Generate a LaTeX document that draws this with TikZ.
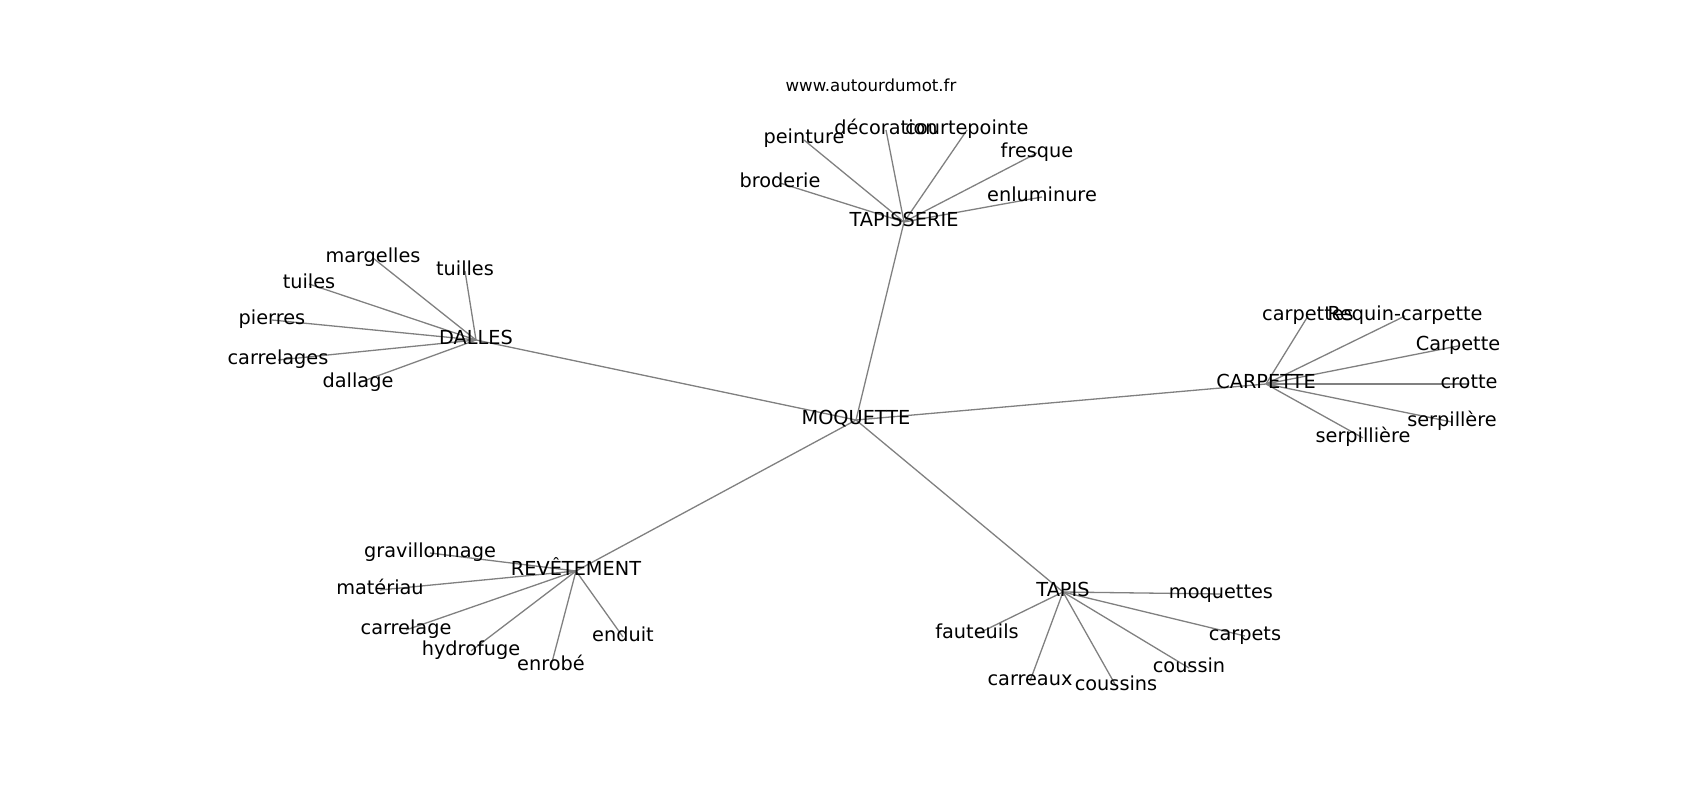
\documentclass[tikz,border=0pt]{standalone}
\usepackage{fontspec}
\setmainfont{DejaVu Sans}
\usetikzlibrary{backgrounds}
\begin{document}
\begin{tikzpicture}[
		x=1pt, y=-1pt,
		every node/.style={
				font=\fontsize{19.3}{22}\selectfont,
				inner sep=0pt, text height=0.8em, text depth=0pt,
			},
		edge/.style={gray, line width=1.3pt},
	]
	\useasboundingbox (0,-5) rectangle (1700,795);
	\node (site) [font=\fontsize{16.6}{19}\selectfont] at (871,83) {www.autourdumot.fr};
	% centre et mots voisins
	\node (moquette) at (856,415) {MOQUETTE};
	\node (tapisserie) at (904,217) {TAPISSERIE};
	\node (dalles) at (476,335) {DALLES};
	\node (carpette) at (1266,379) {CARPETTE};
	\node (revetement) at (576,566) {REVÊTEMENT};
	\node (tapis) at (1063,587) {TAPIS};
	\foreach \n in {tapisserie,dalles,carpette,revetement,tapis} {
			\begin{scope}[on background layer]
				\draw [edge] (moquette.center) -- (\n.center);
			\end{scope}
		}
	% feuilles
	\foreach \h/\n/\t/\x/\y in {
			tapisserie/broderie/broderie/780/178,
			tapisserie/peinture/peinture/804/135,
			tapisserie/decoration/décoration/886/125,
			tapisserie/courtepointe/courtepointe/967/125,
			tapisserie/fresque/fresque/1037/148,
			tapisserie/enluminure/enluminure/1042/192,
			dalles/margelles/margelles/373/253,
			dalles/tuilles/tuilles/465/266,
			dalles/tuiles/tuiles/309/279,
			dalles/pierres/pierres/272/315,
			dalles/carrelages/carrelages/278/355,
			dalles/dallage/dallage/358/378,
			carpette/carpettes/carpettes/1308/311,
			carpette/requin/Requin-carpette/1405/311,
			carpette/carpettebis/Carpette/1458/341,
			carpette/crotte/crotte/1469/379,
			carpette/serpillere/serpillère/1452/417,
			carpette/serpilliere/serpillière/1363/433,
			revetement/gravillonnage/gravillonnage/430/548,
			revetement/materiau/matériau/380/585,
			revetement/carrelage/carrelage/406/625,
			revetement/hydrofuge/hydrofuge/471/646,
			revetement/enrobe/enrobé/551/661,
			revetement/enduit/enduit/623/632,
			tapis/moquettes/moquettes/1221/589,
			tapis/fauteuils/fauteuils/977/629,
			tapis/carpets/carpets/1245/631,
			tapis/coussin/coussin/1189/663,
			tapis/carreaux/carreaux/1030/676,
			tapis/coussins/coussins/1116/681} {
			\node (\n) at (\x,\y) {\t};
			\begin{scope}[on background layer]
				\draw [edge] (\h.center) -- (\n.center);
			\end{scope}
		}
\end{tikzpicture}
\end{document}
